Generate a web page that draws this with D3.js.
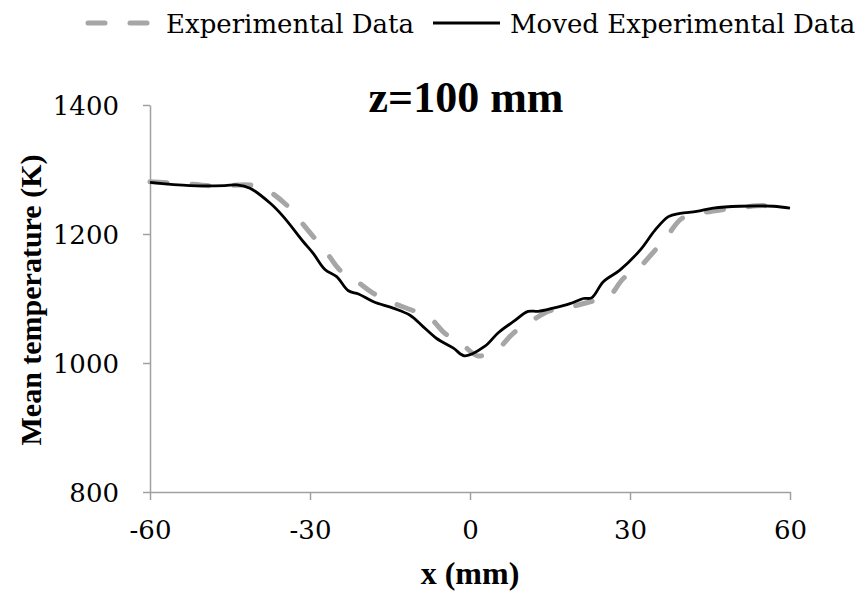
<!DOCTYPE html>
<html>
<head>
<meta charset="utf-8">
<script src="https://cdn.jsdelivr.net/npm/d3@7"></script>
<style>
  body { margin: 0; background: #fff; }
</style>
</head>
<body>
<div class="chart"></div>
<script>
// x position (mm) and mean temperature (K)
const expX = [-60, -52, -47.5, -41.25, -38.1, -34.4, -32.5, -29.4, -27.2, -24.4, -21.6, -18.1, -15, -11.25, -7.8, -4.7, -1.6, 1.5, 5.3, 8.1, 11.25, 15, 18.4, 22.5, 25.9, 28.75, 31.6, 34.4, 36.9, 39.7, 43.1, 47.5, 50.6, 55, 60];
const expT = [1281, 1277, 1274, 1276, 1268, 1245, 1227, 1196, 1175, 1144, 1129, 1108, 1095, 1083, 1072, 1046, 1030, 1011, 1023, 1046, 1064, 1081, 1086, 1095, 1102, 1131, 1147, 1172, 1196, 1224, 1232, 1238, 1241, 1244, 1241];

const movX = [-60, -52.5, -46, -43.75, -41.25, -37.5, -35, -31.25, -29.4, -27.2, -25, -22.8, -20.9, -18.1, -14.4, -11.25, -8.75, -6.25, -3.1, -1, 2.8, 5.3, 8.1, 10.9, 12.8, 15.6, 18.75, 21.25, 22.8, 25, 28.1, 31.9, 34.7, 37.2, 39.4, 42.5, 45.6, 50.6, 56.9, 60];
const movT = [1280, 1275, 1275, 1276, 1271, 1248, 1227, 1188, 1170, 1145, 1134, 1112, 1107, 1095, 1085, 1074, 1056, 1038, 1023, 1011, 1026, 1047, 1064, 1080, 1080, 1085, 1092, 1100, 1101, 1126, 1144, 1175, 1206, 1227, 1232, 1235, 1240, 1243, 1243, 1240];

const xTicks = [-60, -30, 0, 30, 60];
const yTicks = [800, 1000, 1200, 1400];

const w = 865;
const h = 595;
const grey = '#a6a6a6';
const axisGrey = '#a0a0a0';

const svg = d3.select('.chart')
    .append('svg')
    .attr('width', w)
    .attr('height', h);

const x = d3.scaleLinear().domain([-60, 60]).range([150, 790]);
const y = d3.scaleLinear().domain([800, 1400]).range([492, 105]);

const plain = d => String(d);   // hyphen minus, no thousands comma

const xAxis = d3.axisBottom(x).tickValues(xTicks).tickFormat(plain)
    .tickSize(8).tickPadding(20).tickSizeOuter(0);
const yAxis = d3.axisLeft(y).tickValues(yTicks).tickFormat(plain)
    .tickSize(7).tickPadding(24).tickSizeOuter(0);

const gx = svg.append('g')
    .attr('transform', 'translate(0,' + y(800) + ')')
    .call(xAxis);
const gy = svg.append('g')
    .attr('transform', 'translate(' + x(-60) + ',0)')
    .call(yAxis);

[gx, gy].forEach(g => {
    g.selectAll('.domain, line').attr('stroke', axisGrey).attr('stroke-width', 1.5);
    g.selectAll('text')
        .attr('font-family', '"DejaVu Serif", serif')
        .attr('font-size', 26)
        .attr('fill', '#000');
});
gy.selectAll('.tick text').attr('dy', '0.36em');
gx.selectAll('.tick text').attr('dy', '0.72em');

const pts = (xs, ts) => xs.map((v, i) => [v, ts[i]]);

const line = d3.line()
    .x(d => x(d[0]))
    .y(d => y(d[1]))
    .curve(d3.curveCatmullRom.alpha(0.5));

svg.append('path')
    .datum(pts(expX, expT))
    .attr('d', line)
    .attr('fill', 'none')
    .attr('stroke', grey)
    .attr('stroke-width', 5)
    .attr('stroke-dasharray', '17,25')
    .attr('stroke-linecap', 'round');

svg.append('path')
    .datum(pts(movX, movT))
    .attr('d', line)
    .attr('fill', 'none')
    .attr('stroke', '#000')
    .attr('stroke-width', 2.8)
    .attr('stroke-linejoin', 'round');

// title and axis titles
svg.append('text')
    .attr('x', 466).attr('y', 112)
    .attr('text-anchor', 'middle')
    .style('font-family', '"Liberation Serif", serif')
    .style('font-weight', 'bold')
    .style('font-size', '44px')
    .text('z=100 mm');

svg.append('text')
    .attr('x', 470).attr('y', 584)
    .attr('text-anchor', 'middle')
    .style('font-family', '"Liberation Serif", serif')
    .style('font-weight', 'bold')
    .style('font-size', '32px')
    .text('x (mm)');

svg.append('text')
    .attr('transform', 'translate(41,300) rotate(-90)')
    .attr('text-anchor', 'middle')
    .style('font-family', '"Liberation Serif", serif')
    .style('font-weight', 'bold')
    .style('font-size', '30px')
    .text('Mean temperature (K)');

// legend
const legend = svg.append('g');
legend.append('line')
    .attr('x1', 88).attr('x2', 150).attr('y1', 23).attr('y2', 23)
    .attr('stroke', grey).attr('stroke-width', 5)
    .attr('stroke-dasharray', '17,25').attr('stroke-linecap', 'round');
legend.append('text')
    .attr('x', 166).attr('y', 33)
    .style('font-family', '"DejaVu Serif", serif')
    .style('font-size', '26px')
    .text('Experimental Data');
legend.append('line')
    .attr('x1', 433).attr('x2', 500).attr('y1', 23).attr('y2', 23)
    .attr('stroke', '#000').attr('stroke-width', 2.8);
legend.append('text')
    .attr('x', 510).attr('y', 33)
    .style('font-family', '"DejaVu Serif", serif')
    .style('font-size', '26px')
    .text('Moved Experimental Data');
</script>
</body>
</html>
